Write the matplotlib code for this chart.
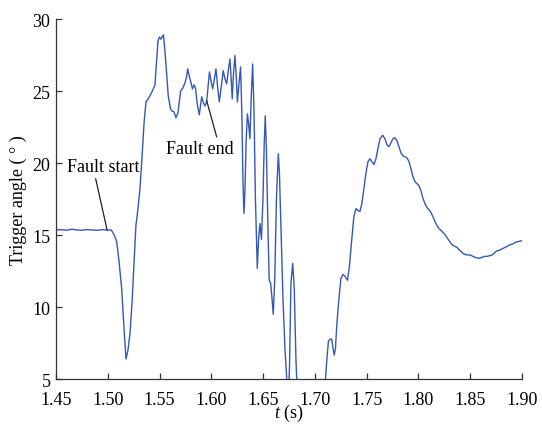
import matplotlib
matplotlib.use("Agg")
import matplotlib.pyplot as plt

plt.rcParams['font.family'] = ['Liberation Serif', 'DejaVu Serif']
plt.rcParams['mathtext.fontset'] = 'custom'
plt.rcParams['mathtext.it'] = 'Liberation Serif:italic'
plt.rcParams['mathtext.rm'] = 'Liberation Serif'

t = [1.450, 1.455, 1.460, 1.465, 1.470, 1.475, 1.480, 1.485, 1.490, 1.495, 1.500, 1.503, 1.5038,
     1.506, 1.5086, 1.5108, 1.5134, 1.5157, 1.5176, 1.5195, 1.5215, 1.5234, 1.5253, 1.5272, 1.5292,
     1.5311, 1.533, 1.535, 1.5369, 1.5391, 1.5417, 1.544, 1.5456, 1.547, 1.5485, 1.5499, 1.5514,
     1.5528, 1.5538, 1.5553, 1.5569, 1.5584, 1.5606, 1.562, 1.5639, 1.5659, 1.5678, 1.5704, 1.5726,
     1.5746, 1.576, 1.5772, 1.5784, 1.5799, 1.5818, 1.5833, 1.5847, 1.5864, 1.5884, 1.5907, 1.5924,
     1.5939, 1.5955, 1.5968, 1.5982, 1.5997, 1.6013, 1.603, 1.6045, 1.6061, 1.6077, 1.6096, 1.6115,
     1.6132, 1.6148, 1.6166, 1.618, 1.6192, 1.6202, 1.6214, 1.6228, 1.6241, 1.6252, 1.6267, 1.6283,
     1.6296, 1.6305, 1.6315, 1.6324, 1.6337, 1.6349, 1.636, 1.6373, 1.6385, 1.6399, 1.6412, 1.6426,
     1.6444, 1.6457, 1.647, 1.6484, 1.6499, 1.6511, 1.6521, 1.6532, 1.6547, 1.6559, 1.6573, 1.6586,
     1.6598, 1.6613, 1.6629, 1.6647, 1.6658, 1.6673, 1.6692, 1.6711, 1.6731, 1.6743, 1.6755, 1.6769,
     1.6786, 1.6801, 1.6817, 1.6832, 1.6904, 1.7001, 1.7068, 1.7102, 1.7117, 1.7131, 1.7146, 1.7162,
     1.7175, 1.7187, 1.7199, 1.7213, 1.7233, 1.7252, 1.7271, 1.7291, 1.7315, 1.7334, 1.7353, 1.7377,
     1.7397, 1.7416, 1.7435, 1.7454, 1.7474, 1.7493, 1.7513, 1.7532, 1.7551, 1.7571, 1.759, 1.7609,
     1.7629, 1.7655, 1.7677, 1.7696, 1.7716, 1.7735, 1.7754, 1.7773, 1.7793, 1.7812, 1.7831, 1.7851,
     1.787, 1.7889, 1.7909, 1.7928, 1.7947, 1.7967, 1.7986, 1.8005, 1.8024, 1.8044, 1.8063, 1.8082,
     1.8102, 1.8121, 1.814, 1.816, 1.8179, 1.8198, 1.8218, 1.8237, 1.8256, 1.8276, 1.8295, 1.8314,
     1.8333, 1.8353, 1.8372, 1.8391, 1.8411, 1.843, 1.8449, 1.8469, 1.8488, 1.8507, 1.8527, 1.8546,
     1.8565, 1.8585, 1.8604, 1.8623, 1.8643, 1.8662, 1.8681, 1.8701, 1.872, 1.8739, 1.8758, 1.8778,
     1.8797, 1.8816, 1.8836, 1.8855, 1.8874, 1.8894, 1.8913, 1.8932, 1.8952, 1.8971, 1.899, 1.900]

angle = [15.35, 15.38, 15.33, 15.40, 15.36, 15.33, 15.38, 15.35, 15.33, 15.38, 15.34, 15.36, 15.30,
         15.04, 14.56, 13.24, 11.30, 8.53, 6.39, 7.00, 8.19, 10.26, 13.03, 15.67, 16.84,
         18.23, 20.30, 22.73, 24.25, 24.46, 24.80, 25.15, 25.43, 26.88, 28.48, 28.75, 28.60,
         28.82, 28.90, 27.70, 26.20, 24.67, 23.77, 23.63, 23.56, 23.14, 23.49, 25.01, 25.22,
         25.57, 25.98, 26.54, 26.12, 25.71, 25.15, 25.43, 25.22, 24.11, 23.35, 24.60, 24.18,
         23.97, 24.25, 25.29, 26.33, 25.71, 25.15, 25.84, 26.54, 25.29, 24.25, 25.29, 26.42,
         25.85, 25.50, 26.54, 27.23, 25.85, 24.46, 26.19, 27.46, 25.98, 24.25, 25.50, 26.68,
         23.08, 18.92, 16.50, 17.88, 21.69, 23.42, 22.73, 21.69, 24.46, 26.88, 23.77, 17.54,
         12.69, 14.77, 15.80, 14.70, 17.54, 21.34, 23.28, 21.00, 15.46, 11.86, 11.65, 10.61,
         9.50, 12.00, 17.54, 20.65, 19.27, 15.46, 10.61, 7.15, 4.70, 3.70, 5.76, 11.65,
         13.03, 11.30, 6.46, 3.70, 1.50, 2.00, 3.50, 4.93, 6.46, 7.63, 7.77, 7.77,
         7.15, 6.66, 7.15, 8.88, 10.61, 12.00, 12.27, 12.13, 11.86, 12.83, 14.42, 16.29,
         16.84, 16.70, 16.63, 17.19, 18.23, 19.27, 20.10, 20.30, 20.10, 19.89, 20.30, 21.00,
         21.69, 21.93, 21.69, 21.27, 21.14, 21.41, 21.69, 21.76, 21.55, 21.14, 20.72, 20.51,
         20.44, 20.37, 20.10, 19.61, 19.06, 18.71, 18.57, 18.43, 18.09, 17.54, 17.19, 16.91,
         16.77, 16.57, 16.29, 15.94, 15.67, 15.46, 15.32, 15.18, 15.04, 14.83, 14.63, 14.42,
         14.28, 14.21, 14.14, 14.00, 13.87, 13.73, 13.66, 13.62, 13.62, 13.59, 13.52, 13.45,
         13.42, 13.38, 13.42, 13.48, 13.52, 13.52, 13.55, 13.59, 13.66, 13.80, 13.90, 13.93,
         14.00, 14.07, 14.14, 14.21, 14.28, 14.35, 14.38, 14.49, 14.52, 14.56, 14.59, 14.62]

x_ticks = [1.45, 1.50, 1.55, 1.60, 1.65, 1.70, 1.75, 1.80, 1.85, 1.90]
y_ticks = [5, 10, 15, 20, 25, 30]

fig = plt.figure(figsize=(5.42, 4.27), dpi=100)
ax = fig.add_axes([0.1033, 0.110, 0.8597, 0.843])
ax.plot(t, angle, color='#3558b8', lw=1.0)

ax.set_xlim(1.45, 1.90)
ax.set_ylim(5, 30)
ax.set_xticks(x_ticks)
ax.set_xticklabels([f"{v:.2f}" for v in x_ticks])
ax.set_yticks(y_ticks)
for s in ['top', 'right']:
    ax.spines[s].set_visible(False)
for s in ['left', 'bottom']:
    ax.spines[s].set_color('#333333')
    ax.spines[s].set_linewidth(0.9)
ax.tick_params(direction='in', length=4, width=0.9, color='#333333', labelsize=13)
ax.tick_params(axis='x', pad=8.5)
ax.tick_params(axis='y', pad=4)

ax.set_xlabel('$t$ (s)', fontsize=13, labelpad=-4)
ax.set_ylabel('Trigger angle ( ° )', fontsize=13, labelpad=4)

# annotation texts and leader lines
ax.text(1.4959, 19.79, 'Fault start', fontsize=13, ha='center', va='center')
ax.annotate('', xy=(1.4994, 15.34), xytext=(1.4883, 18.92),
            arrowprops=dict(arrowstyle='-', color='#222222', lw=0.9, shrinkA=0, shrinkB=0))
ax.text(1.5890, 21.0, 'Fault end', fontsize=13, ha='center', va='center')
ax.annotate('', xy=(1.5955, 24.34), xytext=(1.6052, 21.81),
            arrowprops=dict(arrowstyle='-', color='#222222', lw=0.9, shrinkA=0, shrinkB=0))

fig.savefig('out.png', dpi=100)
